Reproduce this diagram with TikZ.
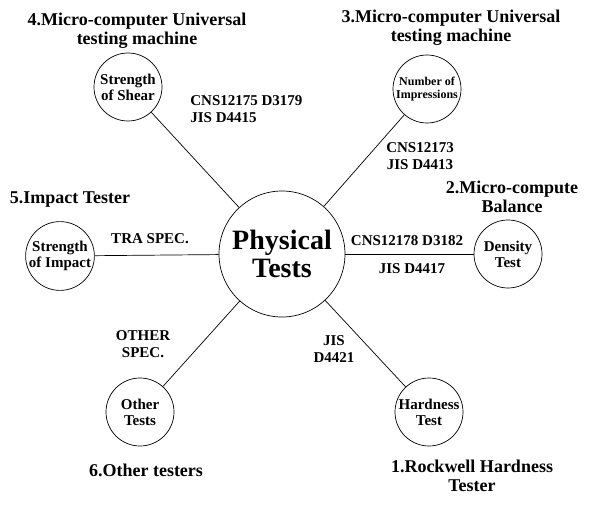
\documentclass[tikz,border=0pt]{standalone}
\usepackage{fontspec}
\setmainfont{Liberation Serif}
\usetikzlibrary{positioning}
\begin{document}
\begin{tikzpicture}[x=1pt, y=-1pt, line width=0.7pt, font=\bfseries]
        \tikzset{
            hub/.style={draw, circle, minimum size=126pt, inner sep=0pt, align=center,
                        font=\fontsize{28}{28}\selectfont\bfseries},
            tst/.style={draw, circle, minimum size=68pt, inner sep=0pt, align=center,
                        font=\fontsize{15}{16}\selectfont\bfseries},
            ttl/.style={align=center, inner sep=0pt, font=\fontsize{18}{19}\selectfont\bfseries},
            std/.style={align=center, inner sep=0pt, font=\fontsize{15}{17}\selectfont\bfseries}
        }
        \useasboundingbox (0,0) rectangle (589,508);
        %% ---- Circles ----
        \node[hub] (phys)   at (282,254) {Physical\\Tests};
        \node[tst] (shear)  at (128,87)  {Strength\\of Shear};
        \node[tst, font=\fontsize{12}{13}\selectfont\bfseries]
                   (imp)    at (427,89)  {Number of\\Impressions};
        \node[tst] (dens)   at (508,254) {Density\\Test};
        \node[tst] (impact) at (60,256)  {Strength\\of Impact};
        \node[tst] (other)  at (140,412) {Other\\Tests};
        \node[tst] (hard)   at (429,412) {Hardness\\Test};
        %% ---- Testers ----
        \node[ttl] (t4) at (137,31)  {4.Micro-computer Universal\\testing machine};
        \node[ttl] (t3) at (451,28)  {3.Micro-computer Universal\\testing machine};
        \node[ttl] (t2) at (512,197) {2.Micro-compute\\Balance};
        \node[ttl] (t5) at (70,200)  {5.Impact Tester};
        \node[ttl] (t6) at (146,470) {6.Other testers};
        \node[ttl] (t1) at (472,476) {1.Rockwell Hardness\\Tester};
        %% ---- Links ----
        \draw (phys) -- (shear);
        \draw (phys) -- (imp);
        \draw (phys) -- (dens);
        \draw (phys) -- (impact);
        \draw (phys) -- (other);
        \draw (phys) -- (hard);
        %% ---- Standards ----
        \node[std, anchor=west, align=left] (s4) at (190,109) {CNS12175 D3179\\JIS D4415};
        \node[std] (s3)  at (420,156) {CNS12173\\JIS D4413};
        \node[std] (s2a) at (407,241) {CNS12178 D3182};
        \node[std] (s2b) at (412,269) {JIS D4417};
        \node[std] (s5)  at (150,239) {TRA SPEC.};
        \node[std] (s6)  at (143,344) {OTHER\\SPEC.};
        \node[std] (s1)  at (334,349) {JIS\\D4421};
    \end{tikzpicture}
\end{document}
